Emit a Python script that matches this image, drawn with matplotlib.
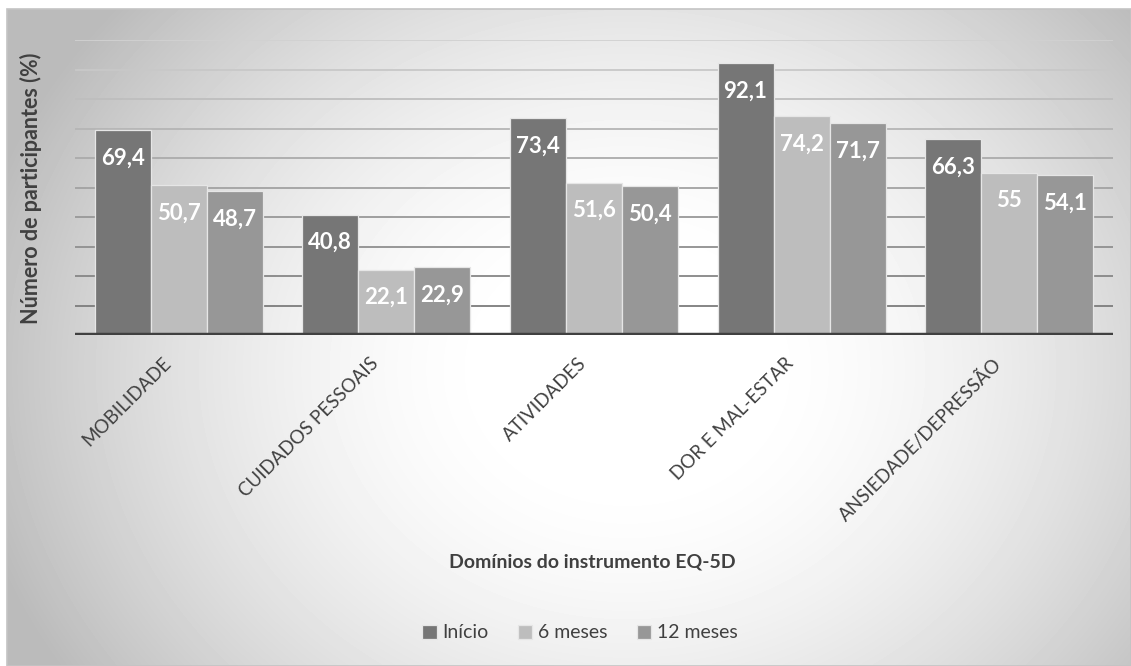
import matplotlib.pyplot as plt
import numpy as np
from matplotlib.patches import Rectangle

plt.rcParams['font.family'] = ['Lato', 'DejaVu Sans']

dominios = ['MOBILIDADE', 'CUIDADOS PESSOAIS', 'ATIVIDADES',
            'DOR E MAL-ESTAR', 'ANSIEDADE/DEPRESSÃO']
series = ['Início', '6 meses', '12 meses']
inicio = [69.4, 40.8, 73.4, 92.1, 66.3]
seis_meses = [50.7, 22.1, 51.6, 74.2, 55]
doze_meses = [48.7, 22.9, 50.4, 71.7, 54.1]

cores = ['#767676', '#bdbdbd', '#979797']
texto = '#404040'

W, H = 1131, 666
fig = plt.figure(figsize=(W / 100, H / 100), dpi=100)
fig.patch.set_facecolor('white')

# fundo com degradê radial (branco no centro, cinza nas bordas)
bg = fig.add_axes([7 / W, 0, 1 - 7 / W, 1 - 9 / H], zorder=-10)
yy, xx = np.mgrid[0:H - 9, 0:W - 7]
d = np.sqrt(((xx - 620) / 620.0) ** 2 + ((yy - 360) / 520.0) ** 2)
r = np.clip((d - 0.2) / 0.8, 0, 1.1)
shade = 1.0 - (1.0 - 0.77) * r ** 1.6
bg.imshow(shade, cmap='gray', vmin=0, vmax=1, aspect='auto',
          interpolation='bilinear')
bg.axis('off')
fig.patches.append(Rectangle((7 / W, 0), 1 - 7 / W, 1 - 9 / H,
                             transform=fig.transFigure, fill=False,
                             edgecolor='#c4c4c4', linewidth=1.2))

ax = fig.add_axes([75 / W, 1 - 335 / H, (1113 - 75) / W, (335 - 40) / H])
ax.set_facecolor('none')

x = np.arange(len(dominios))
largura = 0.27
for i, (nome, vals) in enumerate(zip(series, [inicio, seis_meses, doze_meses])):
    barras = ax.bar(x + (i - 1) * largura, vals, largura, color=cores[i],
                    edgecolor='#e6e6e6', linewidth=0.9, label=nome, zorder=3)
    for b, v in zip(barras, vals):
        rot = f'{v:g}'.replace('.', ',')
        ax.annotate(rot, (b.get_x() + b.get_width() / 2, v),
                    xytext=(0, -20), textcoords='offset points',
                    ha='center', va='center', color='white',
                    fontsize=16, fontweight='bold', zorder=4)

# linhas de grade com tom mais escuro em baixo
niveis = np.arange(10, 101, 10)
for g in niveis:
    t = g / 100.0
    c = 0.45 + 0.37 * t
    ax.axhline(g, color=(c, c, c), linewidth=1.3, zorder=1)
ax.axhline(0, color='#404040', linewidth=3.2, zorder=5)

ax.set_xlim(-0.5, len(dominios) - 0.5)
ax.set_ylim(0, 100)
ax.set_yticks([])
ax.set_xticks([])
for s in ax.spines.values():
    s.set_visible(False)

# rótulos das categorias inclinados a 45 graus
for xi, nome in zip(x, dominios):
    ax.annotate(nome, (xi, 0), xytext=(-12, -14), textcoords='offset points',
                ha='right', va='top', rotation=45, rotation_mode='anchor',
                fontsize=13.5, color=texto)

fig.text(31 / W, 1 - 188 / H, 'Número de participantes (%)', rotation=90,
         ha='center', va='center', fontsize=15.5, fontweight='bold', color=texto)
fig.text(592 / W, 1 - 562 / H, 'Domínios do instrumento EQ-5D',
         ha='center', va='center', fontsize=14, fontweight='bold', color=texto)

fig.legend(*ax.get_legend_handles_labels(), loc='center',
           bbox_to_anchor=(580 / W, 1 - 633 / H), ncol=3, frameon=False,
           fontsize=14, labelcolor=texto, handlelength=0.75,
           handleheight=0.75, handletextpad=0.3, columnspacing=1.5)

fig.savefig('out.png', dpi=100)
